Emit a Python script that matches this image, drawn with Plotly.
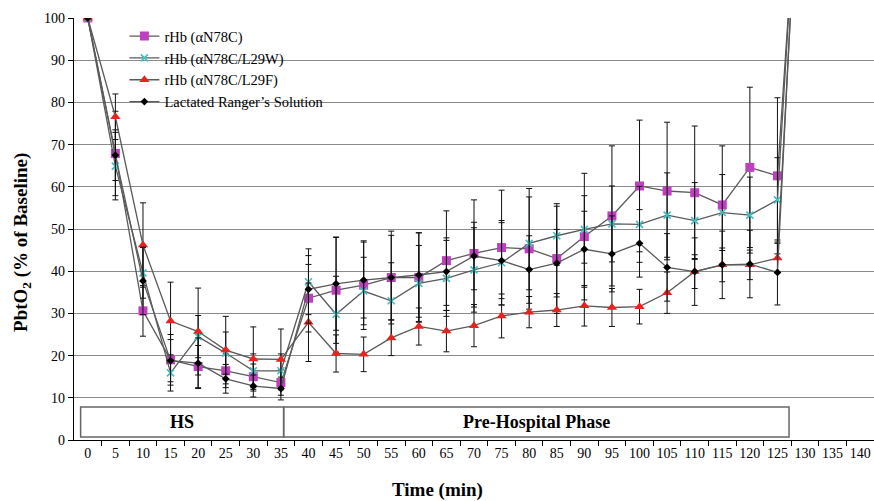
import plotly.graph_objects as go

time_min = [0, 5, 10, 15, 20, 25, 30, 35, 40, 45, 50, 55, 60, 65, 70, 75, 80, 85, 90, 95, 100, 105, 110, 115, 120, 125, 130]

n78c = [100, 67.9, 30.6, 19.0, 17.4, 16.4, 15.0, 13.6, 33.6, 35.5, 36.7, 38.5, 38.5, 42.5, 44.2, 45.6, 45.3, 43.0, 48.2, 53.1, 60.2, 59.0, 58.6, 55.7, 64.6, 62.6, 160]
n78c_err = [0, 10, 6, 6, 5, 4, 3, 3, 8, 12.6, 10.5, 11, 10.6, 11.8, 12.7, 13.6, 14.3, 13, 15, 16.6, 15.6, 16.3, 15.8, 14, 19, 18.5, 0]

l29w = [100, 64.9, 39.6, 15.9, 24.5, 20.6, 16.4, 16.4, 37.5, 29.8, 35.3, 33.0, 37.1, 38.3, 40.3, 42.0, 46.6, 48.4, 49.9, 51.2, 51.1, 53.3, 52.0, 53.9, 53.3, 56.9, 165]
l29w_err = [0, 8, 6, 4.3, 5, 5, 4, 4, 7.8, 9, 8, 9, 9, 9, 10, 10, 11, 7, 8, 9, 9, 10, 9, 9, 9, 10, 0]

l29f = [100, 76.6, 46.2, 28.2, 25.7, 21.3, 19.2, 19.1, 27.9, 20.5, 20.3, 24.2, 26.9, 25.8, 27.1, 29.4, 30.3, 30.8, 31.8, 31.4, 31.6, 34.9, 39.9, 41.5, 41.5, 43.1, 165]
l29f_err = [0, 5.4, 10, 9.2, 10.3, 8, 7.6, 7.2, 9.3, 4.4, 4.1, 4.2, 4.4, 4.9, 5, 5.2, 3.7, 3.9, 4.8, 4.5, 4.1, 4.9, 4, 4, 3.5, 3.5, 0]

lrs = [100, 67.5, 37.7, 18.8, 18.2, 14.5, 12.8, 12.2, 35.7, 37.0, 37.9, 38.5, 39.1, 39.9, 43.6, 42.5, 40.4, 41.9, 45.2, 44.1, 46.6, 40.9, 39.9, 41.5, 41.7, 39.7, 170]
lrs_err = [0, 6, 8, 5, 6, 3.4, 2.6, 2.7, 8, 11, 9, 10, 10, 8, 8, 9, 8, 8, 9, 9, 8, 8, 8, 8, 8, 7.7, 0]

x_ticks = list(range(0, 145, 5))
y_ticks = list(range(0, 101, 10))

serif = "Liberation Serif"
line_col = "#5a5a5a"

series = [
    ("rHb (αN78C)", n78c, n78c_err, dict(symbol="square", size=9, color="#BF40BF")),
    ("rHb (αN78C/L29W)", l29w, l29w_err, dict(symbol="x-thin", size=7, color="#3FBFBF", line=dict(width=1.6, color="#3FBFBF"))),
    ("rHb (αN78C/L29F)", l29f, l29f_err, dict(symbol="triangle-up", size=9, color="#E8231E")),
    ("Lactated Ranger\u2019s Solution", lrs, lrs_err, dict(symbol="diamond", size=6, color="#000000")),
]

fig = go.Figure()
for name, vals, errs, mk in series:
    fig.add_trace(go.Scatter(
        x=time_min, y=vals, name=name, mode="lines+markers",
        line=dict(color=line_col, width=1.3),
        marker=mk,
        error_y=dict(type="data", array=errs, visible=True, color="#111111", thickness=1, width=3),
    ))

# phase boxes
fig.add_shape(type="rect", x0=-1.3, x1=35.5, y0=0.7, y1=7.8, xref="x", yref="y",
              line=dict(color="#666666", width=1.5), fillcolor="rgba(0,0,0,0)", layer="above")
fig.add_shape(type="rect", x0=35.5, x1=127.1, y0=0.7, y1=7.8, xref="x", yref="y",
              line=dict(color="#666666", width=1.5), fillcolor="rgba(0,0,0,0)", layer="above")
fig.add_annotation(x=17.1, y=4.25, text="<b>HS</b>", showarrow=False,
                   font=dict(family=serif, size=18, color="black"))
fig.add_annotation(x=81.3, y=4.25, text="<b>Pre-Hospital Phase</b>", showarrow=False,
                   font=dict(family=serif, size=18, color="black"))

# axis titles
fig.add_annotation(xref="paper", yref="paper", x=0.454, y=-0.118, text="<b>Time (min)</b>",
                   showarrow=False, font=dict(family=serif, size=19, color="black"),
                   xanchor="center", yanchor="middle")
fig.add_annotation(xref="paper", yref="paper", x=-0.065, y=0.467,
                   text="<b>PbtO<sub>2</sub> (% of Baseline)</b>", textangle=-90,
                   showarrow=False, font=dict(family=serif, size=19, color="black"),
                   xanchor="center", yanchor="middle")

fig.update_layout(
    width=874, height=501,
    margin=dict(l=74, r=0, t=18, b=61),
    paper_bgcolor="white", plot_bgcolor="white",
    font=dict(family=serif, size=14, color="black"),
    showlegend=True,
    legend=dict(x=0.063, y=0.995, xanchor="left", yanchor="top",
                bgcolor="rgba(0,0,0,0)", font=dict(family=serif, size=14.5, color="black"),
                tracegroupgap=0, itemwidth=30),
    xaxis=dict(
        range=[-2.5, 142.5], tickmode="array", tickvals=x_ticks, ticktext=[str(v) for v in x_ticks],
        ticks="", showgrid=False, zeroline=False,
        showline=True, linecolor="black", linewidth=1.2,
        tickfont=dict(family=serif, size=14, color="black"),
        minor=dict(tickmode="array", tickvals=[v + 2.5 for v in x_ticks[:-1]], ticks="outside",
                   ticklen=5, tickwidth=1.2, tickcolor="black", showgrid=False),
    ),
    yaxis=dict(
        range=[0, 100], tickmode="array", tickvals=y_ticks,
        ticks="outside", ticklen=5, tickwidth=1.2, tickcolor="black",
        showgrid=True, gridcolor="#8a8a8a", gridwidth=1.4,
        zeroline=False, showline=True, linecolor="black", linewidth=1.2,
        tickfont=dict(family=serif, size=14, color="black"),
    ),
)

fig.write_html("out.html")
